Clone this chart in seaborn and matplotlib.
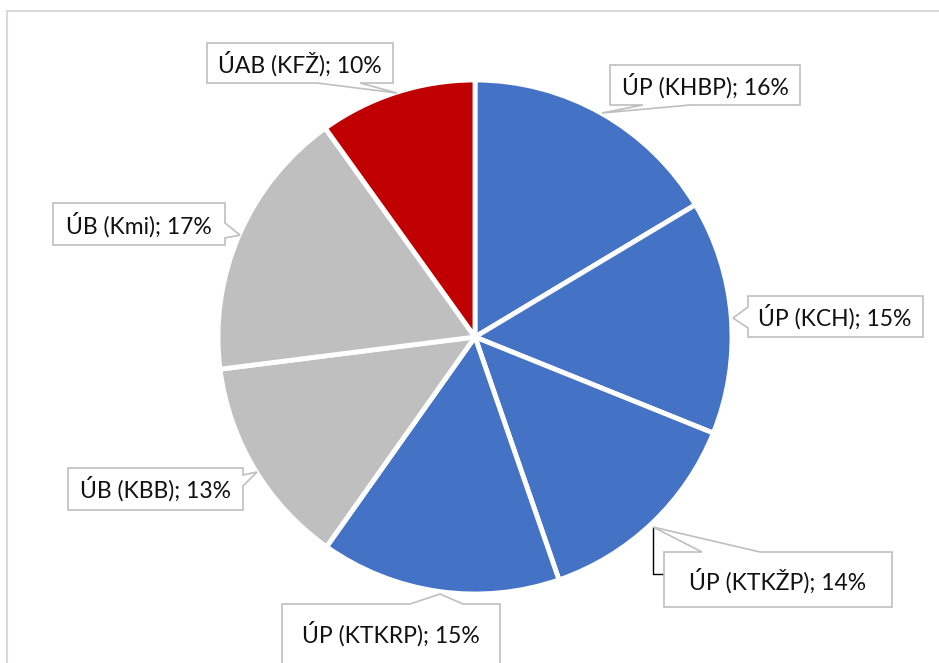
import matplotlib
matplotlib.use("Agg")
import matplotlib.pyplot as plt
import seaborn as sns
from matplotlib.patches import Polygon, Rectangle

# data (clockwise from 12 o'clock)
units = ["ÚP (KHBP)", "ÚP (KCH)", "ÚP (KTKŽP)", "ÚP (KTKRP)", "ÚB (KBB)", "ÚB (Kmi)", "ÚAB (KFŽ)"]
shares = [16.4, 14.7, 13.6, 15.1, 13.2, 17.1, 9.9]
groups = ["ÚP", "ÚP", "ÚP", "ÚP", "ÚB", "ÚB", "ÚAB"]
group_colors = {"ÚP": "#4472C4", "ÚB": "#BFBFBF", "ÚAB": "#C00000"}

W, H = 939, 663

sns.set_theme(style="white")
plt.rcParams['font.family'] = ['Lato', 'DejaVu Sans']

fig = plt.figure(figsize=(W / 100, H / 100), dpi=100)
ax = fig.add_axes([0, 0, 1, 1])

def Y(y):
    return H - y

colors = [group_colors[g] for g in groups]
ax.pie(shares, colors=colors, startangle=90, counterclock=False,
       center=(475, Y(337)), radius=257,
       wedgeprops=dict(edgecolor="white", linewidth=3.5))
ax.set_xlim(0, W)
ax.set_ylim(0, H)
ax.set_aspect("equal", adjustable="box")
ax.axis("off")

# chart border
ax.add_patch(Rectangle((6.5, Y(700)), 1000, 700 - 11, fill=False,
                       edgecolor="#D9D9D9", linewidth=1.5, clip_on=True))


def callout(box, side, base, tip, label, center):
    x0, y0, x1, y1 = box
    b0, b1 = base
    if side == "bottom":
        pts = [(x0, y0), (x1, y0), (x1, y1), (b1, y1), tip, (b0, y1), (x0, y1)]
    elif side == "top":
        pts = [(x0, y0), (b0, y0), tip, (b1, y0), (x1, y0), (x1, y1), (x0, y1)]
    elif side == "left":
        pts = [(x0, y0), (x1, y0), (x1, y1), (x0, y1), (x0, b1), tip, (x0, b0)]
    else:
        pts = [(x0, y0), (x1, y0), (x1, b0), tip, (x1, b1), (x1, y1), (x0, y1)]
    pts = [(px, Y(py)) for px, py in pts]
    ax.add_patch(Polygon(pts, closed=True, facecolor="white",
                         edgecolor="#BFBFBF", linewidth=1.2, zorder=5))
    ax.text(center[0], Y(center[1]), label, ha="center", va="center",
            fontsize=16.5, color="#111111", zorder=6)


labels = [f"{u}; {round(s)}%" for u, s in zip(units, shares)]

# leader line for KTKŽP
ax.plot([653, 653, 664], [Y(527), Y(574), Y(574)], color="black", lw=1, zorder=4)

callout((610, 65, 800, 105), "bottom", (643, 690), (602, 113), labels[0], (705, 86))
callout((748, 296, 923, 337), "left", (307, 328), (733, 318), labels[1], (835, 317))
callout((664, 552, 892, 607), "top", (702, 760), (653, 527), labels[2], (778, 581))
callout((282, 604, 500, 690), "top", (410, 463), (440, 594), labels[3], (391, 634))
callout((68, 468, 243, 510), "right", (475, 486), (257, 472), labels[4], (155, 489))
callout((53, 203, 225, 245), "right", (223, 238), (240, 235), labels[5], (139, 225))
callout((207, 43, 393, 83), "bottom", (317, 360), (397, 93), labels[6], (300, 64))

fig.savefig("out.png", dpi=100)
